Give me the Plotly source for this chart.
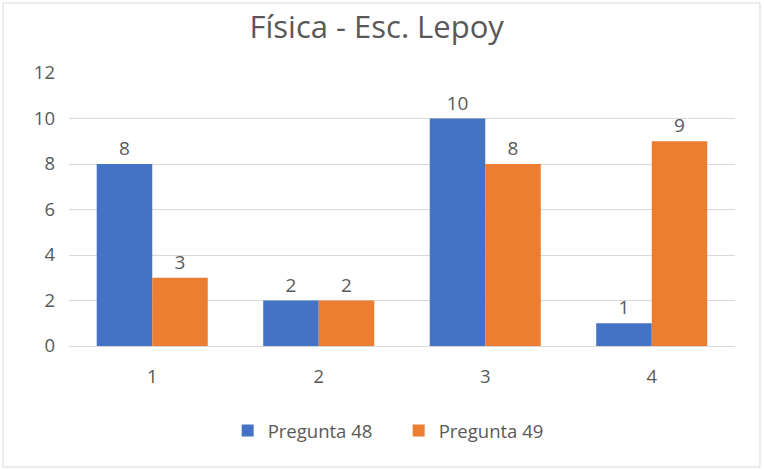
import plotly.graph_objects as go

categories = ["1", "2", "3", "4"]
pregunta_48 = [8, 2, 10, 1]
pregunta_49 = [3, 2, 8, 9]
series_names = ["Pregunta 48", "Pregunta 49"]
title_text = "Física - Esc. Lepoy"

FONT = "Open Sans, Noto Sans, sans-serif"
GREY = "#595959"

fig = go.Figure()
for name, vals, color in [
    (series_names[0], pregunta_48, "#4472C4"),
    (series_names[1], pregunta_49, "#ED7D31"),
]:
    fig.add_trace(go.Bar(
        x=categories, y=vals, name=name,
        marker=dict(color=color, line=dict(width=0)),
        text=[str(v) for v in vals], textposition="outside",
        textfont=dict(size=19, color=GREY, family=FONT),
        cliponaxis=False,
    ))

# figure size and plot-area margins (px), used for the outer frame too
L, R, T, B, W, H = 69, 29, 73, 124, 764, 470
pw, ph = W - L - R, H - T - B

fig.update_layout(
    width=W, height=H,
    margin=dict(l=L, r=R, t=T, b=B),
    paper_bgcolor="white", plot_bgcolor="white",
    barmode="group", bargap=0.333, bargroupgap=0,
    font=dict(family=FONT, color=GREY, size=18),
    title=dict(text=title_text, x=0.493, xref="container", xanchor="center",
               y=1 - 27 / H, yanchor="middle",
               font=dict(size=31, color=GREY, family=FONT)),
    xaxis=dict(showgrid=False, showline=False, ticks="", zeroline=False,
               tickfont=dict(size=18.5, color=GREY), ticklabelstandoff=17),
    yaxis=dict(range=[0, 12], dtick=2, showgrid=True, gridcolor="#D9D9D9",
               gridwidth=1, zeroline=True, zerolinecolor="#D9D9D9", zerolinewidth=1,
               showline=False, ticks="", tickfont=dict(size=18.5, color=GREY),
               ticklabelstandoff=13),
    legend=dict(orientation="h", x=0.495, xanchor="center", y=-(431 - 346) / ph,
                yanchor="middle", font=dict(size=18.5, color=GREY), itemwidth=30,
                entrywidth=126, entrywidthmode="pixels",
                traceorder="normal"),
    shapes=[dict(type="rect", xref="paper", yref="paper",
                 x0=(3 - L) / pw, x1=(760 - L) / pw,
                 y0=-(467 - (H - B)) / ph, y1=1 + (T - 3) / ph,
                 line=dict(color="#D9D9D9", width=1), layer="below")],
)

fig.write_html("out.html")
